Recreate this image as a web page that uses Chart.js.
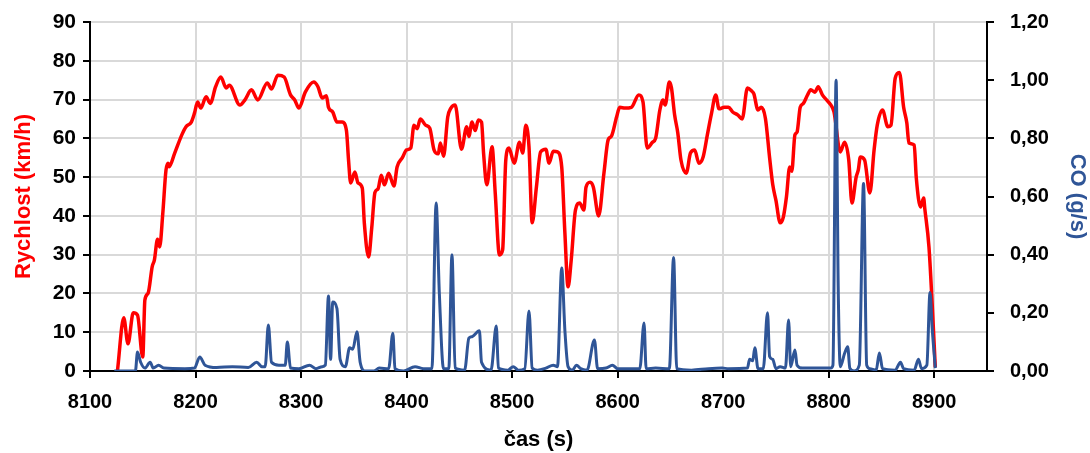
<!DOCTYPE html>
<html>
<head>
<meta charset="utf-8">
<script src="https://cdn.jsdelivr.net/npm/chart.js@4.4.0/dist/chart.umd.min.js"></script>
<style>
  html, body { margin: 0; padding: 0; background: #fff; }
  #wrap { width: 1090px; height: 453px; }
</style>
</head>
<body>
<div id="wrap"><canvas id="chart" width="1090" height="453"></canvas></div>
<script>
// rychlost (km/h) v čase (s)
const speedTime = [8126,8132,8136,8141,8145,8150,8152,8155,8159,8161,8164,8166,8169,8172,8174,8175,8180,8187,8191,8196,
  8199,8202,8205,8210,8214,8219,8224,8229,8232,8242,8247,8253,8259,8268,8272,8278,8284,8290,8294,8298,
  8304,8312,8316,8320,8324,8326,8330,8334,8339,8343,8345,8347,8351,8354,8358,8360,8364,8367,8370,8373,
  8376,8379,8383,8388,8391,8396,8400,8404,8407,8410,8413,8418,8422,8426,8430,8432,8435,8439,8442,8446,
  8452,8457,8459,8462,8465,8468,8471,8473,8476,8481,8484,8488,8491,8494,8497,8502,8507,8510,8513,8516,
  8519,8523,8527,8532,8535,8539,8543,8547,8550,8553,8556,8560,8564,8568,8570,8574,8577,8582,8587,8591,
  8594,8599,8602,8607,8613,8620,8624,8628,8633,8636,8640,8643,8645,8649,8651,8654,8657,8660,8665,8669,
  8673,8677,8681,8685,8689,8693,8696,8701,8705,8709,8714,8718,8723,8727,8729,8733,8736,8740,8744,8747,
  8750,8754,8757,8760,8763,8765,8768,8770,8773,8776,8780,8783,8787,8790,8794,8798,8802,8805,8811,8815,
  8819,8822,8826,8828,8830,8834,8839,8843,8846,8851,8856,8859,8863,8867,8871,8874,8876,8881,8883,8887,
  8890,8891,8895,8898,8901];
const speedValues = [0,13.7,7,15,14.4,3.6,18.3,20,27,28.6,34,32,40.7,51.8,53.6,52.7,56,60.9,63,64.2,
  66.5,69.4,67.8,70.7,69,73.3,75.8,73,73.7,68.6,70,72.5,69.9,74.3,72.7,76.3,75.8,71.2,69.9,67.8,
  71.9,74.5,73.3,70.4,71,68,66.8,64.2,64.2,62,54.4,48.5,51.3,48.5,47.2,38,29.4,37,46,47,
  50.5,48,51,47.7,52.6,55,57,57.5,63.4,62.5,65,63.4,62.6,57,56,58.8,55.4,65.5,67.8,68.6,
  57.2,63,60.5,64.2,62,64.7,64.2,56,48,57.8,45.9,29.9,31.2,54.4,57.5,53.6,59,56.2,63.4,57.8,
  38.2,47.4,56.5,57.2,53.6,56.7,56.5,52.6,35.6,21.7,28.6,41.5,43.3,41.5,47.4,48.7,47.4,40,51,59.6,
  60.5,65.5,68,67.8,68,71.2,69.4,57.5,59,60,67.3,69.9,68.6,74.5,73,66,61.4,54.4,51,56.2,
  57,53.6,55.2,60.9,66.5,71.2,67.6,68,68,66.8,66,65,73,72.2,71.5,67.3,68,65.2,55,48,
  44,38.2,39.7,45,52.6,51.5,60.9,61.6,68,69,71.2,72.5,71.9,73.3,71.2,69.9,68.6,66.8,56.5,59,
  54.4,43.3,50,51.8,55.2,54.4,45.9,57,63.4,67.3,63,63.4,75.5,77,68,64,58.8,58.3,49.8,42.3,
  44.6,42,32,17.5,1];

// CO (g/s) v čase (s)
const coTime = [8123,8143,8145,8148,8152,8157,8160,8165,8170,8190,8199,8204,8209,8220,8235,8250,8258,8263,8266,8269,
  8272,8279,8285,8287,8290,8298,8308,8314,8320,8323,8326,8328,8330,8334,8337,8342,8346,8349,8353,8356,
  8361,8369,8374,8383,8387,8389,8397,8408,8416,8424,8428,8431,8435,8440,8443,8446,8455,8459,8462,8469,
  8471,8480,8485,8487,8496,8501,8506,8512,8516,8519,8524,8532,8539,8543,8547,8550,8553,8557,8561,8565,
  8571,8578,8581,8589,8595,8600,8613,8621,8625,8627,8636,8649,8653,8656,8670,8686,8699,8705,8723,8725,
  8728,8730,8733,8738,8742,8744,8747,8750,8754,8759,8762,8764,8768,8770,8775,8802,8804,8807,8809,8811,
  8815,8818,8820,8824,8829,8833,8836,8839,8845,8848,8851,8863,8868,8871,8881,8885,8888,8893,8896,8898,
  8901];
const coValues = [0,0,0.065,0.03,0.01,0.03,0.01,0.02,0.01,0.008,0.01,0.048,0.02,0.012,0.015,0.012,0.03,0.015,0.015,0.158,
  0.03,0.02,0.02,0.1,0.01,0.008,0.02,0.008,0.015,0.02,0.258,0.04,0.237,0.215,0.04,0.015,0.08,0.075,0.135,0.03,
  0,0,0.01,0.008,0.13,0.008,0,0.015,0.008,0.008,0.578,0.27,0.008,0.008,0.4,0.01,0.003,0.113,0.118,0.138,
  0.03,0.003,0.155,0.01,0.003,0.015,0.003,0.008,0.206,0.01,0.003,0.01,0.02,0.015,0.354,0.14,0.015,0.003,0.02,0.008,
  0.003,0.107,0.008,0.01,0.02,0.008,0.008,0.008,0.165,0.008,0.01,0.008,0.39,0.008,0.003,0.008,0.01,0.008,0.01,0.04,
  0.035,0.08,0.008,0.008,0.2,0.05,0.04,0.008,0.015,0.01,0.175,0.015,0.072,0.02,0.01,0.01,0.02,1.0,0.29,0.015,
  0.06,0.083,0.01,0,0.02,0.645,0.02,0.008,0.003,0.062,0.008,0.003,0.03,0.008,0.003,0.04,0.008,0.02,0.27,0.15,
  0.01];

// popisky os
const xTicks = [8100,8200,8300,8400,8500,8600,8700,8800,8900];
const xTitle = 'čas (s)';
const speedTitle = 'Rychlost (km/h)';
const coTitle = 'CO (g/s)';

const RED = '#FF0000';
const BLUE = '#2F5597';
const GRID = '#D9D9D9';

Chart.defaults.font.family = '"Liberation Sans", Arial, sans-serif';
Chart.defaults.font.weight = 'bold';
Chart.defaults.color = '#000';

// pevná šířka svislé osy, bez extra odsazení nahoře/dole
function fixWidth(w) {
  return (s) => {
    s.width = w;
    s.paddingTop = 0;
    s.paddingBottom = 0;
  };
}

new Chart(document.getElementById('chart'), {
  type: 'line',
  data: {
    datasets: [
      {
        label: 'CO',
        data: coTime.map((t, i) => ({ x: t, y: coValues[i] })),
        yAxisID: 'y1',
        borderColor: BLUE,
        borderWidth: 3,
        pointRadius: 0,
        cubicInterpolationMode: 'monotone',
        order: 0
      },
      {
        label: 'Rychlost',
        data: speedTime.map((t, i) => ({ x: t, y: speedValues[i] })),
        yAxisID: 'y',
        borderColor: RED,
        borderWidth: 3.5,
        pointRadius: 0,
        cubicInterpolationMode: 'monotone',
        order: 1
      }
    ]
  },
  options: {
    responsive: false,
    animation: false,
    devicePixelRatio: 1,
    layout: { padding: { top: 22, right: 0, bottom: 0, left: 0 } },
    plugins: { legend: { display: false }, tooltip: { enabled: false } },
    scales: {
      x: {
        type: 'linear',
        min: 8100,
        max: 8950,
        afterBuildTicks: (s) => { s.ticks = xTicks.map(v => ({ value: v })); },
        afterFit: (s) => { s.height = 82; s.paddingLeft = 0; s.paddingRight = 0; },
        ticks: {
          maxRotation: 0,
          autoSkip: false,
          padding: 12,
          font: { size: 20, weight: 'bold' },
          color: '#000',
          callback: (v) => String(v)
        },
        grid: { color: GRID, lineWidth: 2, tickColor: '#000', tickLength: 7 },
        border: { color: '#000', width: 2 },
        title: { display: true, text: xTitle, color: '#000', font: { size: 22, weight: 'bold' }, padding: { top: 0, bottom: 0 } }
      },
      y: {
        position: 'left',
        min: 0,
        max: 90,
        afterFit: fixWidth(90),
        ticks: { stepSize: 10, padding: 7, font: { size: 21, weight: 'bold' }, color: '#000' },
        grid: { color: GRID, lineWidth: 2, tickColor: '#000', tickLength: 7 },
        border: { color: '#000', width: 2 },
        title: { display: true, text: speedTitle, color: RED, font: { size: 22, weight: 'bold' }, padding: { top: 11, bottom: 0 } }
      },
      y1: {
        position: 'right',
        min: 0,
        max: 1.2,
        afterFit: fixWidth(103),
        ticks: {
          stepSize: 0.2,
          padding: 16,
          font: { size: 20, weight: 'bold' },
          color: '#000',
          callback: (v) => v.toFixed(2).replace('.', ',')
        },
        grid: { drawOnChartArea: false, color: '#000', lineWidth: 2, tickColor: '#000', tickLength: 7 },
        border: { color: '#000', width: 2 },
        title: { display: true, text: coTitle, color: BLUE, font: { size: 22, weight: 'bold' }, padding: { top: 0, bottom: 0 } }
      }
    }
  }
});
</script>
</body>
</html>
